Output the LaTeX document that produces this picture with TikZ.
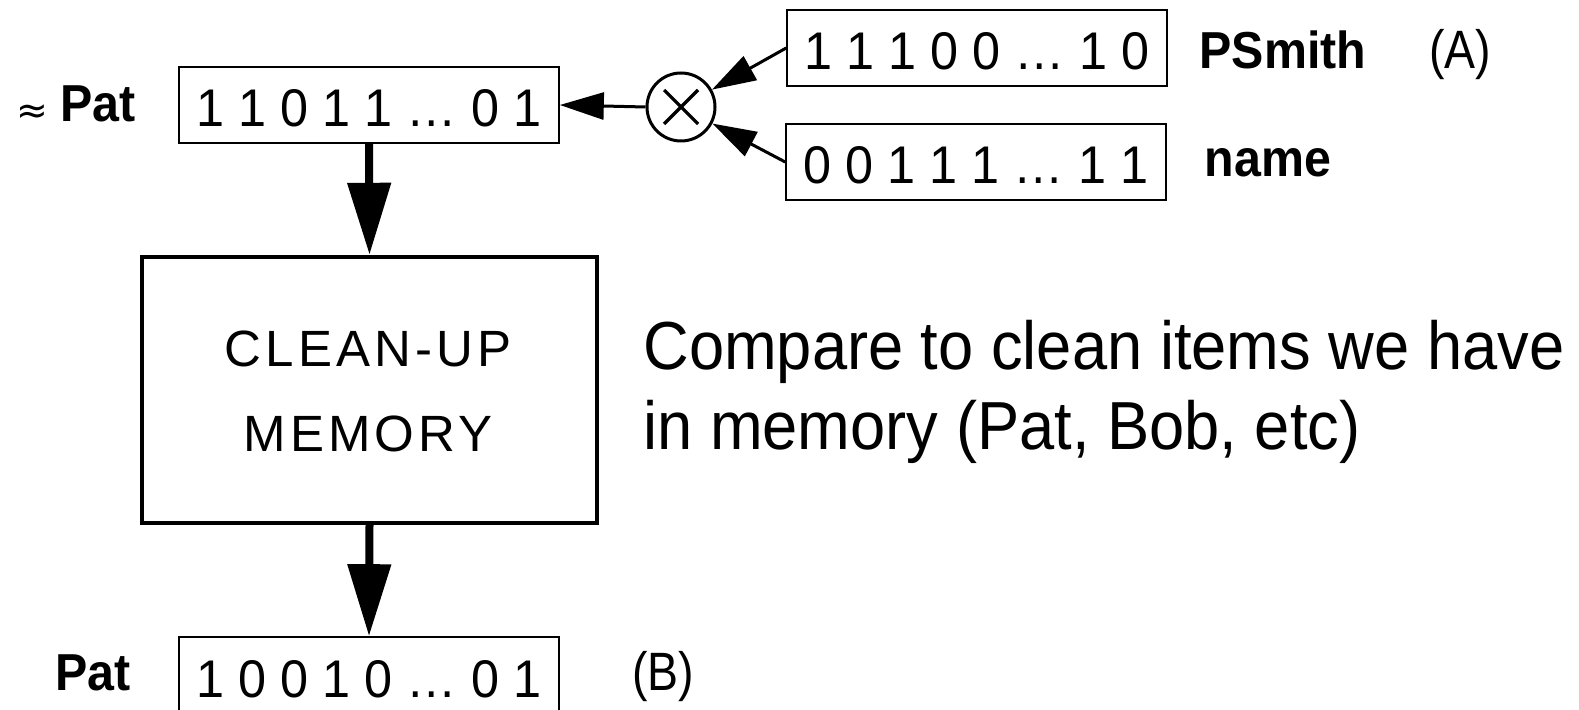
\documentclass[tikz,border=0pt]{standalone}
\usepackage{fontspec}
\setmainfont{Liberation Sans}
\newfontfamily\narrowfont{Liberation Sans}[FakeStretch=0.86]
\newfontfamily\bitfont{Liberation Sans}[FakeStretch=0.95]
\newfontfamily\labelfont{Liberation Sans}[FakeStretch=0.93]
\newfontfamily\cmpfont{Liberation Sans}[FakeStretch=0.93]
\newfontfamily\memfont{Liberation Sans}[LetterSpace=8]
\newfontfamily\symfont{DejaVu Sans}
\usetikzlibrary{arrows.meta}
\tikzset{
  bitbox/.style={draw, line width=0.8pt, minimum width=190pt, minimum height=38pt, inner sep=0pt},
  bits/.style={inner sep=0pt, anchor=base, font=\bitfont\fontsize{26.5}{28}\selectfont},
  lbl/.style={inner sep=0pt, anchor=base, font=\labelfont\bfseries\fontsize{26}{28}\selectfont},
  tag/.style={inner sep=0pt, anchor=base, font=\narrowfont\fontsize{27}{29}\selectfont},
  memtxt/.style={inner sep=0pt, anchor=base, font=\memfont\fontsize{25.5}{27}\selectfont},
  bigtxt/.style={inner sep=0pt, anchor=base west, font=\cmpfont\fontsize{34}{40}\selectfont},
  thinarrow/.style={line width=1.5pt, -{Triangle[length=22pt,width=13.5pt]}},
  thickarrow/.style={line width=4pt, -{Triangle[length=36pt,width=21pt]}},
}
\begin{document}
\begin{tikzpicture}[x=0.5pt,y=-0.5pt]
\useasboundingbox (0,0) rectangle (1579,710);
\clip (0,0) rectangle (1579,710);
% bit boxes
\node[bitbox] (top) at (369,105) {};
\node[bits] (toptxt) at (369,127) {1 1 0 1 1 \ldots\ 0 1};
\node[bitbox] (r1) at (977,48) {};
\node[bits] (r1txt) at (977,70) {1 1 1 0 0 \ldots\ 1 0};
\node[bitbox] (r2) at (976,162) {};
\node[bits] (r2txt) at (976,184) {0 0 1 1 1 \ldots\ 1 1};
\node[bitbox, minimum height=46pt] (bot) at (369,683) {};
\node[bits] (bottxt) at (369,697) {1 0 0 1 0 \ldots\ 0 1};
% clean-up memory
\node[draw, line width=2.2pt, minimum width=227.5pt, minimum height=133pt, inner sep=0pt] (mem) at (369.5,390) {};
\node[memtxt] (mem1) at (368,367) {CLEAN-UP};
\node[memtxt] (mem2) at (368,452) {MEMORY};
% multiply circle
\node[circle, draw, line width=1.5pt, minimum size=34pt, inner sep=0pt] (mul) at (681,107) {};
\draw[line width=1.6pt] (mul.center) +(-17,-17) -- +(17,17);
\draw[line width=1.6pt] (mul.center) +(-17,17) -- +(17,-17);
% labels
\node[inner sep=0pt, anchor=base, font=\symfont\fontsize{19}{20}\selectfont] (approx) at (32,124) {≈};
\node[lbl] (pat1) at (98,122) {Pat};
\node[lbl] (pat2) at (93,690) {Pat};
\node[lbl] (psmith) at (1283,69) {PSmith};
\node[lbl] (name) at (1268,177) {name};
\node[tag] (A) at (1460,69) {(A)};
\node[tag] (B) at (663,690) {(B)};
\node[bigtxt] (cmp1) at (643,370) {Compare to clean items we have};
\node[bigtxt] (cmp2) at (643,450) {in memory (Pat, Bob, etc)};
% connectors
\draw[thinarrow] (mul.west) -- (top.east);
\draw[thinarrow] (r1.west) -- (mul);
\draw[thinarrow] (r2.west) -- (mul);
\draw[thickarrow] (top.south) -- (mem.north);
\draw[thickarrow] (mem.south) -- (bot.north);
\end{tikzpicture}
\end{document}
